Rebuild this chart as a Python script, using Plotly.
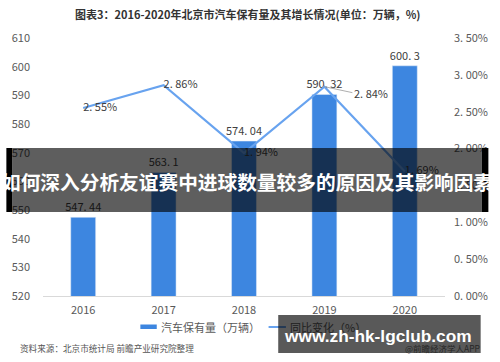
import plotly.graph_objects as go

years = ["2016", "2017", "2018", "2019", "2020"]
vehicles = [547.44, 563.1, 574.04, 590.32, 600.3]
growth = [2.55, 2.86, 1.94, 2.84, 1.69]

left_ticks = [520, 530, 540, 550, 560, 570, 580, 590, 600, 610]
right_ticks = [0, 0.5, 1.0, 1.5, 2.0, 2.5, 3.0, 3.5]
right_ticktext = ["0. 00%", "0. 50%", "1. 00%", "1. 50%", "2. 00%", "2. 50%", "3. 00%", "3. 50%"]

title_text = "图表3：2016-2020年北京市汽车保有量及其增长情况(单位：万辆，%)"
legend_bar = "汽车保有量（万辆）"
legend_line = "同比变化（%）"
source_text = "资料来源：北京市统计局 前瞻产业研究院整理"
banner_text = "如何深入分析友谊赛中进球数量较多的原因及其影响因素"
wm_text = "www.zh-hk-lgclub.com"
wm_sub = "@前瞻经济学人APP"

W, H = 500, 362
ML, MR, MT, MB = 38, 45, 38, 66
PW, PH = W - ML - MR, H - MT - MB

def px(x):
    return (x - ML) / PW

def py(y):
    return (H - MB - y) / PH

FONT = "Noto Sans CJK SC"
BAR_C = "#3D86E0"
LINE_C = "#68A3EF"
TXT = "#404040"

def fmt(v):
    return str(v).replace(".", ". ")

bar_text = [fmt(v) for v in vehicles]
line_text = [fmt(v) + "%" for v in growth]
line_text_trace = [t if i != 3 else "" for i, t in enumerate(line_text)]

fig = go.Figure()
fig.add_trace(go.Bar(
    x=years, y=vehicles, width=0.31, marker_color=BAR_C,
    text=bar_text, textposition="outside", cliponaxis=False, constraintext="none",
    textfont=dict(family=FONT, size=11, color=TXT), yaxis="y",
    showlegend=False,
))
fig.add_trace(go.Scatter(
    x=years, y=growth, yaxis="y2", mode="lines+text",
    line=dict(color=LINE_C, width=2.2),
    text=line_text_trace, textposition="middle right",
    textfont=dict(family=FONT, size=11, color=TXT),
    cliponaxis=False, showlegend=False,
))

annotations = []
# 2.84% label with leader line (x given as category index)
annotations.append(dict(
    x=3, y=growth[3], xref="x", yref="y2",
    text=line_text[3], showarrow=True, arrowhead=0, arrowwidth=0.8,
    arrowcolor="#999999", ax=28, ay=6, xanchor="left",
    font=dict(family=FONT, size=11, color=TXT),
))
annotations.append(dict(
    x=px(250), y=py(14), xref="paper", yref="paper", text="<b>" + title_text + "</b>",
    showarrow=False, font=dict(family=FONT, size=11, color="#333333"),
    xanchor="center", yanchor="middle",
))
# custom legend
annotations.append(dict(
    x=px(158), y=py(327), xref="paper", yref="paper", text=legend_bar,
    showarrow=False, xanchor="left", yanchor="middle",
    font=dict(family=FONT, size=11, color="#595959"),
))
annotations.append(dict(
    x=px(292), y=py(327), xref="paper", yref="paper", text=legend_line,
    showarrow=False, xanchor="left", yanchor="middle",
    font=dict(family=FONT, size=11, color="#202020"),
))
annotations.append(dict(
    x=px(12), y=py(348), xref="paper", yref="paper", text=source_text,
    showarrow=False, xanchor="left", yanchor="middle",
    font=dict(family=FONT, size=8.6, color="#555555"),
))
# banner text
annotations.append(dict(
    x=px(249.5), y=py(181), xref="paper", yref="paper", text="<b>" + banner_text + "</b>",
    showarrow=False, xanchor="center", yanchor="middle",
    font=dict(family=FONT, size=19.7, color="white"),
))
# watermark
annotations.append(dict(
    x=px(385), y=py(336), xref="paper", yref="paper", text="<b>" + wm_text + "</b>",
    showarrow=False, xanchor="center", yanchor="middle",
    font=dict(family="Liberation Sans", size=17.3, color="white"),
))
annotations.append(dict(
    x=px(493), y=py(348), xref="paper", yref="paper", text=wm_sub,
    showarrow=False, xanchor="right", yanchor="middle",
    font=dict(family=FONT, size=8.5, color="#262626"),
))

shapes = [
    # legend symbols
    dict(type="rect", xref="paper", yref="paper", x0=px(139), x1=px(156),
         y0=py(324.5), y1=py(329), fillcolor=BAR_C, line_width=0),
    dict(type="line", xref="paper", yref="paper", x0=px(272), x1=px(290),
         y0=py(327), y1=py(327), line=dict(color=LINE_C, width=2)),
    # banner
    dict(type="rect", xref="paper", yref="paper", x0=px(0), x1=px(6),
         y0=py(148), y1=py(212), fillcolor="black", line_width=0, layer="above"),
    dict(type="rect", xref="paper", yref="paper", x0=px(493), x1=px(500),
         y0=py(148), y1=py(212), fillcolor="black", line_width=0, layer="above"),
    dict(type="rect", xref="paper", yref="paper", x0=px(6), x1=px(493),
         y0=py(148), y1=py(212), fillcolor="rgba(0,0,0,0.63)", line_width=0, layer="above"),
    # watermark box
    dict(type="rect", xref="paper", yref="paper", x0=px(282), x1=px(492),
         y0=py(315), y1=py(353), fillcolor="rgba(0,0,0,0.65)", line_width=0, layer="above"),
]

fig.update_layout(
    width=W, height=H,
    margin=dict(l=ML, r=MR, t=MT, b=MB),
    paper_bgcolor="white", plot_bgcolor="white",
    font=dict(family=FONT, size=11, color="#595959"),
    showlegend=False,
    xaxis=dict(
        type="category", range=[-0.5, 4.5], showgrid=False, showline=True,
        linecolor="#D9D9D9", linewidth=1, ticks="",
        tickfont=dict(family=FONT, size=11, color="#595959"),
        ticklabelstandoff=4,
    ),
    yaxis=dict(
        range=[520, 610], tickvals=left_ticks, showgrid=False, zeroline=False,
        showline=False, ticks="", tickfont=dict(family=FONT, size=11, color="#595959"),
        ticklabelstandoff=12,
    ),
    yaxis2=dict(
        range=[0, 3.5], overlaying="y", side="right", tickvals=right_ticks,
        ticktext=right_ticktext, showgrid=False, zeroline=False, showline=False,
        ticks="", tickfont=dict(family=FONT, size=11, color="#595959"),
        ticklabelstandoff=8,
    ),
    annotations=annotations,
    shapes=shapes,
)

fig.write_html("out.html")
